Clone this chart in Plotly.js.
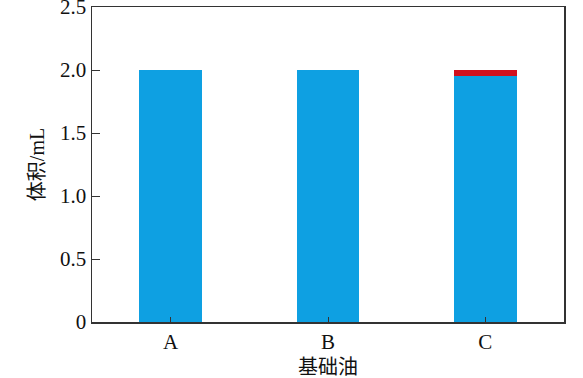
<!DOCTYPE html>
<html>
<head>
<meta charset="utf-8">
<script src="https://cdn.plot.ly/plotly-3.0.1.min.js"></script>
<style>html,body{margin:0;padding:0;background:#fff;}#chart{width:583px;height:378px;}</style>
</head>
<body>
<div id="chart"></div>
<script>
// Base oils and volumes (mL)
const categories = ['A', 'B', 'C'];
const volumeLower = [2.0, 2.0, 1.95];
const volumeUpper = [0, 0, 0.05];
const yTickVals = [0, 0.5, 1.0, 1.5, 2.0, 2.5];
const yTickText = ['0', '0.5', '1.0', '1.5', '2.0', '2.5'];

const fontFamily = '"Liberation Serif", "Times New Roman", "Noto Sans CJK SC", serif';

const traces = [
  {type: 'bar', x: categories, y: volumeLower, marker: {color: '#0EA0E2'}, width: 0.4, hoverinfo: 'skip'},
  {type: 'bar', x: categories, y: volumeUpper, marker: {color: '#D2111E'}, width: 0.4, hoverinfo: 'skip'}
];

const layout = {
  width: 583, height: 378,
  margin: {l: 92, r: 19, t: 7, b: 56},
  barmode: 'stack',
  showlegend: false,
  paper_bgcolor: '#fff', plot_bgcolor: '#fff',
  font: {family: fontFamily, size: 21, color: '#111'},
  xaxis: {
    range: [-0.5, 2.5],
    showline: true, mirror: true, linecolor: '#333', linewidth: 1.5,
    ticks: 'inside', ticklen: 5, tickcolor: '#333',
    showgrid: false, zeroline: false,
    tickfont: {family: fontFamily, size: 21},
    title: {text: '基础油', font: {family: fontFamily, size: 20}, standoff: 8}
  },
  yaxis: {
    range: [0, 2.5],
    tickvals: yTickVals, ticktext: yTickText,
    ticklabeloverflow: 'allow',
    showline: true, mirror: true, linecolor: '#333', linewidth: 1.5,
    ticks: 'inside', ticklen: 8, tickcolor: '#333',
    showgrid: false, zeroline: false,
    tickfont: {family: fontFamily, size: 21},
    title: {text: '体积/mL', font: {family: fontFamily, size: 20}, standoff: 10}
  }
};

Plotly.newPlot('chart', traces, layout, {staticPlot: true, displayModeBar: false});
</script>
</body>
</html>
